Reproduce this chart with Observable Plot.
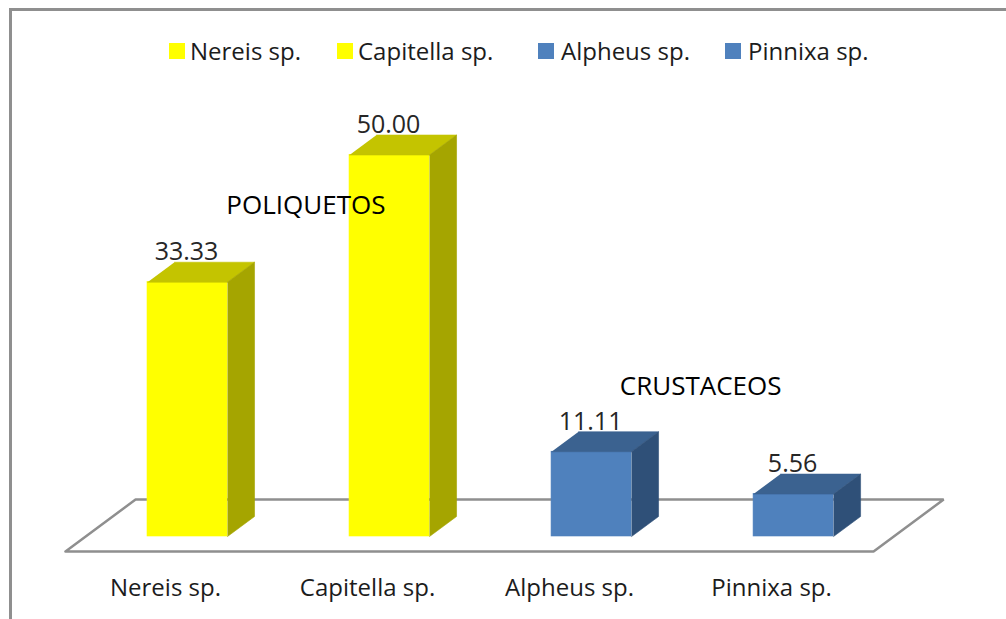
<!DOCTYPE html>
<html>
<head>
<meta charset="utf-8">
<script src="https://cdn.jsdelivr.net/npm/d3@7"></script>
<script src="https://cdn.jsdelivr.net/npm/@observablehq/plot@0.6"></script>
<style>
html,body{margin:0;padding:0;background:#fff;width:1006px;height:619px;overflow:hidden}
#wrap{position:relative;width:1006px;height:619px;overflow:hidden}
#border{position:absolute;left:9px;top:8px;width:1100px;height:700px;border-left:3px solid #8f8f8f;border-top:3px solid #8f8f8f;box-sizing:border-box}
#plot{position:absolute;left:0;top:0}
#plot svg{background:transparent;overflow:visible}
#legend{position:absolute;top:35px;left:0;height:30px;font:24px "Open Sans",sans-serif;color:#1c1c1c}
#legend .item{position:absolute;top:0;display:flex;align-items:center;height:30px;white-space:nowrap}
#legend .sw{display:inline-block;width:16px;height:16px;margin-top:2px}
</style>
</head>
<body>
<div id="wrap">
<div id="border"></div>
<div id="plot"></div>
<div id="legend"></div>
</div>
<script>
const categories = ["Nereis sp.", "Capitella sp.", "Alpheus sp.", "Pinnixa sp."];
const values = [33.33, 50.00, 11.11, 5.56];
const valueLabels = ["33.33", "50.00", "11.11", "5.56"];
const frontColors = ["#ffff00", "#ffff00", "#4f81bd", "#4f81bd"];
const topColors = ["#c4c400", "#c4c400", "#3b6290", "#3b6290"];
const sideColors = ["#a5a500", "#a5a500", "#2f5078", "#2f5078"];
const groupNames = ["POLIQUETOS", "CRUSTACEOS"];
const groupAt = [0.586, 2.54];
const groupLevel = [43.4, 19.7];

// Depth of the fake 3D projection, in scale units
const halfWidth = 0.198, depthX = 0.1337, depthY = 2.62;
const fx0 = -0.604, fx1 = 3.396, fy0 = -1.966;

const bars = categories.map((c, i) => ({c, i, v: values[i], label: valueLabels[i], front: frontColors[i]}));
const faces = bars.flatMap(b => {
  const l = b.i - halfWidth, r = b.i + halfWidth;
  return [
    {id: b.c + "-top", color: topColors[b.i], pts: [[l, b.v], [r, b.v], [r + depthX, b.v + depthY], [l + depthX, b.v + depthY]]},
    {id: b.c + "-side", color: sideColors[b.i], pts: [[r, 0], [r + depthX, depthY], [r + depthX, b.v + depthY], [r, b.v]]}
  ];
}).flatMap(f => f.pts.map(([x, y]) => ({id: f.id, color: f.color, x, y})));

const floorDepthX = 0.347, floorDepthY = 6.816;
const floor = [
  {x: fx0, y: fy0}, {x: fx0 + floorDepthX, y: fy0 + floorDepthY},
  {x: fx1 + floorDepthX, y: fy0 + floorDepthY}, {x: fx1, y: fy0}, {x: fx0, y: fy0}
];
const groups = groupNames.map((name, i) => ({name, x: groupAt[i], y: groupLevel[i]}));

const font = "'Open Sans', sans-serif";
const chart = Plot.plot({
  width: 1006, height: 619,
  marginLeft: 0, marginRight: 0, marginTop: 0, marginBottom: 45,
  x: {domain: [-0.9257, 4.054], axis: null},
  y: {domain: [-4.98, 70.25], axis: null},
  color: {type: "identity"},
  style: {fontFamily: font, background: "transparent"},
  marks: [
    Plot.line(floor, {x: "x", y: "y", stroke: "#8f8f8f", strokeWidth: 2.5, strokeLinejoin: "miter", fill: "#fff"}),
    Plot.text(bars, {x: "i", y: "v", text: "label", dy: -30, dx: -1, fontSize: 25, fill: "#262626", fontFamily: font}),
    Plot.rect(bars, {x1: d => d.i - halfWidth, x2: d => d.i + halfWidth, y1: 0, y2: "v", fill: "front", stroke: "front", strokeWidth: 0.6, inset: 0}),
    Plot.line(faces, {x: "x", y: "y", z: "id", fill: "color", stroke: "color", strokeWidth: 0.6}),
    Plot.text(groups, {x: "x", y: "y", text: "name", fontSize: 26, fill: "#000", fontFamily: font}),
    Plot.axisX({ticks: [0, 1, 2, 3], tickFormat: i => categories[i], tickSize: 0, tickPadding: 4, dx: -22, fontSize: 24, label: null, fill: "#1c1c1c", fontFamily: font, anchor: "bottom"})
  ]
});
document.getElementById("plot").append(chart);

const legendLeft = [169, 337, 538, 725];
const legendTextLeft = [190, 358, 561, 748];
const legend = document.getElementById("legend");
categories.forEach((c, i) => {
  const item = document.createElement("span");
  item.className = "item";
  item.style.left = legendLeft[i] + "px";
  const sw = document.createElement("span");
  sw.className = "sw";
  sw.style.background = frontColors[i];
  sw.style.marginRight = (legendTextLeft[i] - legendLeft[i] - 16) + "px";
  item.append(sw, document.createTextNode(c));
  legend.append(item);
});
</script>
</body>
</html>
